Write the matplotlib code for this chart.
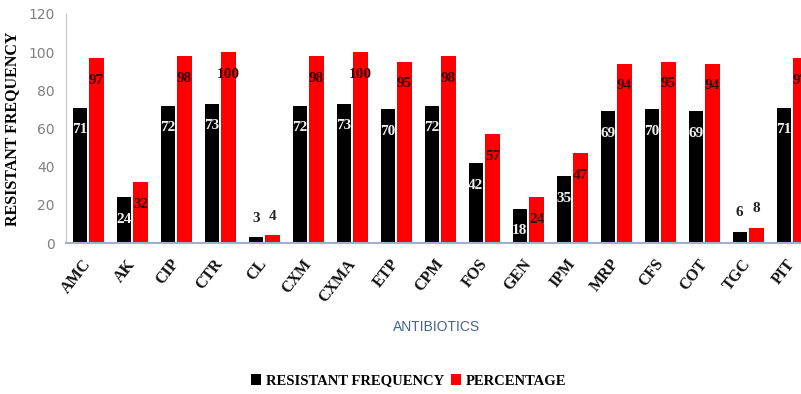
import numpy as np
import matplotlib.pyplot as plt

# antibiotic codes and values
antibiotics = ['AMC', 'AK', 'CIP', 'CTR', 'CL', 'CXM', 'CXMA', 'ETP', 'CPM',
               'FOS', 'GEN', 'IPM', 'MRP', 'CFS', 'COT', 'TGC', 'PIT']
resistant_freq = [71, 24, 72, 73, 3, 72, 73, 70, 72, 42, 18, 35, 69, 70, 69, 6, 71]
percentage = [97, 32, 98, 100, 4, 98, 100, 95, 98, 57, 24, 47, 94, 95, 94, 8, 97]

serif = ['Liberation Serif', 'DejaVu Serif']

fig = plt.figure(figsize=(8.01, 3.94), dpi=100)
ax = fig.add_axes([0.0824, 0.383, 0.934, 0.5815])

x = np.arange(len(antibiotics))
w = 0.33
off = 0.19
b1 = ax.bar(x - off, resistant_freq, w, color='black', label='RESISTANT FREQUENCY')
b2 = ax.bar(x + off, percentage, w, color='#ff0000', label='PERCENTAGE')

# value labels: inside the top of the bar, above it for tiny bars
for bars, vals, inside_col in [(b1, resistant_freq, '#f0f0f0'), (b2, percentage, '#3a0000')]:
    for rect, v in zip(bars, vals):
        cx = rect.get_x() + rect.get_width() / 2
        if v < 10:
            ax.annotate(str(v), (cx, v), xytext=(0, 9), textcoords='offset points',
                        ha='center', va='bottom', fontsize=11, fontweight='bold',
                        family=serif, color='#222222')
        else:
            ax.annotate(str(v), (cx, v), xytext=(0, -16), textcoords='offset points',
                        ha='center', va='center', fontsize=11, fontweight='bold',
                        family=serif, color=inside_col)

ax.set_xlim(-0.506, 16.5)
ax.set_ylim(0, 120)
ax.set_yticks(range(0, 121, 20))
ax.tick_params(axis='y', length=0, labelsize=10, labelcolor='#7f7f7f', pad=8)
ax.tick_params(axis='x', length=0, pad=13)
ax.set_xticks(x)
ax.set_xticklabels(antibiotics, rotation=52, ha='right', va='center', rotation_mode='anchor',
                   fontsize=11.5, fontweight='bold', family=serif, color='#111111')

for s in ['top', 'right']:
    ax.spines[s].set_visible(False)
ax.spines['left'].set_color('#c8c8c8')
ax.spines['bottom'].set_color('#9db3cc')
ax.spines['bottom'].set_linewidth(1.5)

ax.set_ylabel('RESISTANT FREQUENCY', fontsize=11.5, fontweight='bold', family=serif, labelpad=6)
fig.text(0.545, 0.17, 'ANTIBIOTICS', ha='center', va='center', fontsize=10,
         color='#44648c', family='Liberation Sans')

fig.legend(handles=[b1, b2], loc='center', bbox_to_anchor=(0.51, 0.033),
           ncol=2, frameon=False, handlelength=0.7, handleheight=0.7,
           handletextpad=0.3, columnspacing=0.5,
           prop={'family': serif, 'weight': 'bold', 'size': 10.5})

fig.savefig('out.png', dpi=100)
